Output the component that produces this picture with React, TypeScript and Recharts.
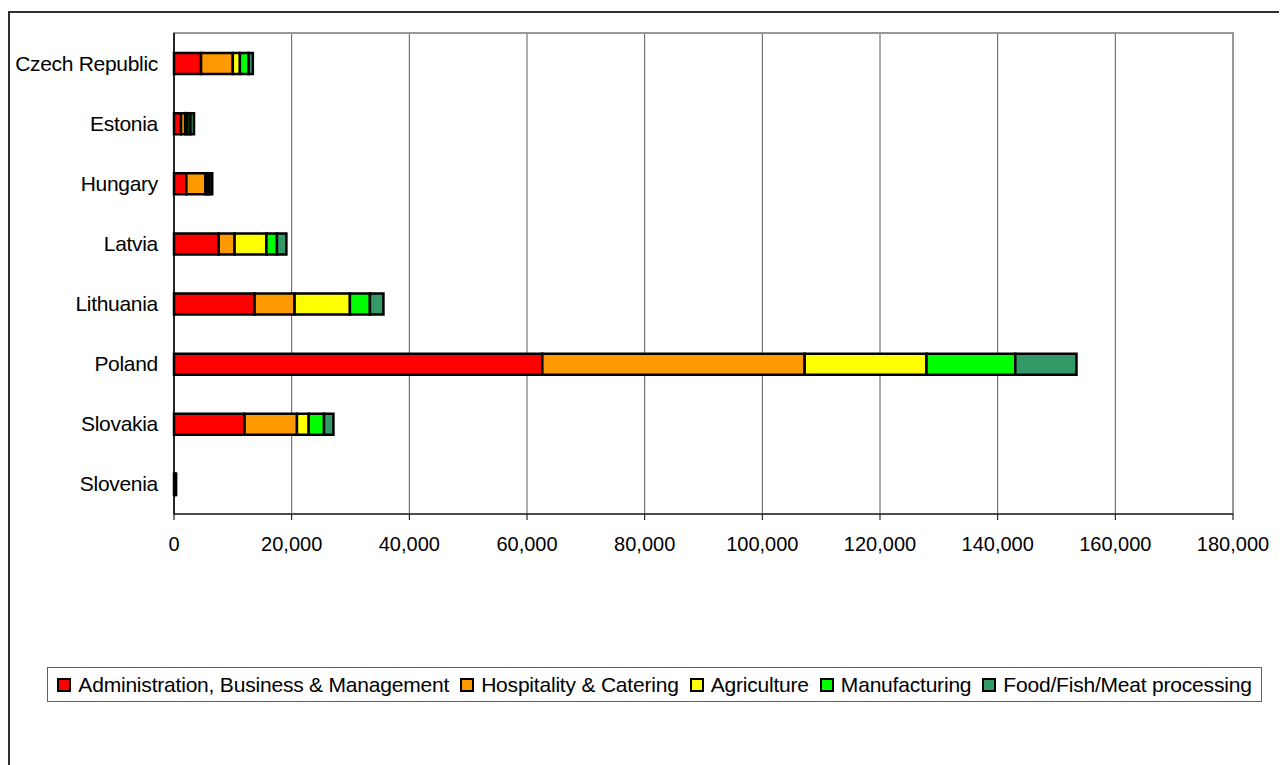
import React from "react";
import {
  BarChart,
  Bar,
  XAxis,
  YAxis,
  CartesianGrid,
  Legend,
  ReferenceArea,
} from "recharts";

const countries = [
  "Czech Republic",
  "Estonia",
  "Hungary",
  "Latvia",
  "Lithuania",
  "Poland",
  "Slovakia",
  "Slovenia",
];

const admin = [4600, 1200, 2100, 7600, 13700, 62600, 12000, 150];
const hospitality = [5400, 700, 3250, 2700, 6800, 44600, 8900, 80];
const agriculture = [1200, 400, 300, 5400, 9400, 20700, 2000, 30];
const manufacturing = [1500, 500, 400, 1800, 3400, 15100, 2600, 50];
const food = [700, 600, 450, 1600, 2300, 10400, 1600, 40];

const xTicks = [0, 20000, 40000, 60000, 80000, 100000, 120000, 140000, 160000, 180000];
const edgeTicks = [0, 1, 2, 3, 4, 5, 6, 7, 8];

const series = [
  { key: "admin", name: "Administration, Business & Management", color: "#FF0000" },
  { key: "hospitality", name: "Hospitality & Catering", color: "#FF9900" },
  { key: "agriculture", name: "Agriculture", color: "#FFFF00" },
  { key: "manufacturing", name: "Manufacturing", color: "#00FF00" },
  { key: "food", name: "Food/Fish/Meat processing", color: "#339966" },
];

const data = countries.map((country, i) => ({
  country,
  admin: admin[i],
  hospitality: hospitality[i],
  agriculture: agriculture[i],
  manufacturing: manufacturing[i],
  food: food[i],
}));

const FONT = "'Liberation Sans', Arial, sans-serif";

function LegendBox() {
  return (
    <div
      style={{
        boxSizing: "border-box",
        height: 35,
        border: "1px solid #606060",
        background: "#fff",
        display: "flex",
        alignItems: "center",
        justifyContent: "center",
        fontFamily: FONT,
        fontSize: 21,
        letterSpacing: -0.2,
        color: "#000",
        whiteSpace: "nowrap",
      }}
    >
      {series.map((s, i) => (
        <span
          key={s.key}
          style={{
            display: "inline-flex",
            alignItems: "center",
            marginRight: i < series.length - 1 ? 11 : 0,
          }}
        >
          <span
            style={{
              display: "inline-block",
              width: 10,
              height: 10,
              background: s.color,
              border: "2px solid #000",
              marginRight: 7,
            }}
          />
          {s.name}
        </span>
      ))}
    </div>
  );
}

export default function App() {
  return (
    <div
      style={{
        marginTop: 3,
        width: 1277,
        height: 752,
        borderLeft: "2px solid #303030",
        borderTop: "2px solid #303030",
        background: "#fff",
        overflow: "hidden",
      }}
    >
      <BarChart
        width={1277}
        height={752}
        data={data}
        layout="vertical"
        margin={{ top: 20, right: 54, bottom: 211, left: 0 }}
        style={{ fontFamily: FONT }}
      >
        <ReferenceArea
          x1={0}
          x2={180000}
          fill="none"
          stroke="#999"
          strokeWidth={2}
          ifOverflow="visible"
        />
        <CartesianGrid vertical horizontal={false} stroke="#5a5a5a" strokeWidth={1} />
        <XAxis
          type="number"
          domain={[0, 180000]}
          ticks={xTicks}
          interval={0}
          height={40}
          tickSize={6}
          tickMargin={17}
          stroke="#000"
          tick={{ fill: "#000", fontSize: 20 }}
          tickFormatter={(v: number) => v.toLocaleString("en-US")}
        />
        {/* boundary tick marks between the country rows */}
        <YAxis
          yAxisId="edges"
          type="number"
          domain={[0, 8]}
          ticks={edgeTicks}
          interval={0}
          width={0}
          tickSize={6}
          axisLine={false}
          stroke="#000"
          tickFormatter={() => ""}
        />
        <YAxis
          type="category"
          dataKey="country"
          width={164}
          tickLine={false}
          tickSize={6}
          tickMargin={10}
          stroke="#000"
          strokeWidth={1.5}
          tick={{ fill: "#000", fontSize: 21, letterSpacing: -0.3 }}
        />
        <Legend
          layout="horizontal"
          verticalAlign="middle"
          align="center"
          wrapperStyle={{ left: 37, top: 654, width: 1215 }}
          content={() => <LegendBox />}
        />
        {series.map((s) => (
          <Bar
            key={s.key}
            dataKey={s.key}
            name={s.name}
            stackId="total"
            fill={s.color}
            stroke="#000"
            strokeWidth={2.5}
            barSize={21}
            isAnimationActive={false}
          />
        ))}
      </BarChart>
    </div>
  );
}
